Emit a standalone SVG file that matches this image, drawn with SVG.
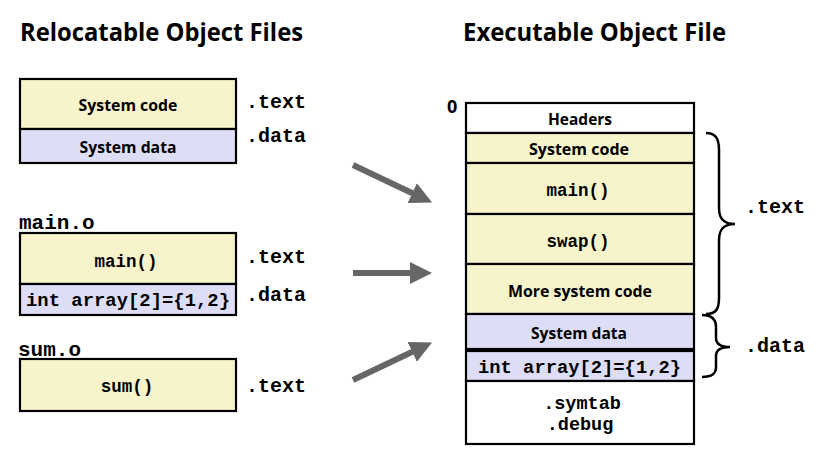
<svg xmlns="http://www.w3.org/2000/svg" width="829" height="451" viewBox="0 0 829 451">
<style>
.bg{fill:#ffffff}
.code{fill:#F7F4CC;stroke:#000;stroke-width:2.2}
.data{fill:#DDDEF6;stroke:#000;stroke-width:2.2}
.plain{fill:#ffffff;stroke:#000;stroke-width:2.2}
.sans{font-family:"Open Sans","Liberation Sans",sans-serif;font-weight:bold;fill:#000}
.mono{font-family:"Liberation Mono","DejaVu Sans Mono",monospace;font-weight:bold;fill:#000}
.title{font-size:25px}
.lbl{font-size:16.5px;text-anchor:middle}
.mc{font-size:17.5px;text-anchor:middle}
.sec{font-size:20px}
.brace{fill:none;stroke:#000;stroke-width:2.5}
.arrow{stroke:#666;stroke-width:6;fill:none}
</style>
<defs>
<marker id="ah" markerUnits="userSpaceOnUse" markerWidth="22" markerHeight="24" refX="2" refY="12" orient="auto">
<path d="M0,1 L22,12 L0,23 Z" fill="#666"/>
</marker>
</defs>
<rect class="bg" x="0" y="0" width="829" height="451"/>

<text class="sans title" x="20" y="41" textLength="283" lengthAdjust="spacingAndGlyphs">Relocatable Object Files</text>
<text class="sans title" x="463" y="41" textLength="263" lengthAdjust="spacingAndGlyphs">Executable Object File</text>

<g id="system-obj">
<rect class="code" x="20" y="79" width="216" height="50"/>
<rect class="data" x="20" y="129" width="216" height="34"/>
<text class="sans lbl" x="128" y="111" textLength="99" lengthAdjust="spacingAndGlyphs">System code</text>
<text class="sans lbl" x="128" y="153" textLength="97" lengthAdjust="spacingAndGlyphs">System data</text>
<text class="mono sec" x="246" y="108">.text</text>
<text class="mono sec" x="246" y="142">.data</text>
</g>

<g id="main-obj">
<text class="mono" x="19" y="229" font-size="21">main.o</text>
<rect class="code" x="20" y="233" width="216" height="51"/>
<rect class="data" x="20" y="284" width="216" height="31"/>
<text class="mono mc" x="126" y="267">main()</text>
<text class="mono" x="26" y="306" font-size="18.5" textLength="204" lengthAdjust="spacingAndGlyphs">int array[2]={1,2}</text>
<text class="mono sec" x="246" y="263">.text</text>
<text class="mono sec" x="246" y="301">.data</text>
</g>

<g id="sum-obj">
<text class="mono" x="18" y="356" font-size="21">sum.o</text>
<rect class="code" x="20" y="359" width="216" height="52"/>
<text class="mono mc" x="127" y="392">sum()</text>
<text class="mono sec" x="246" y="392">.text</text>
</g>

<g id="connectors">
<line class="arrow" x1="353" y1="165" x2="414" y2="194" marker-end="url(#ah)"/>
<line class="arrow" x1="353" y1="273" x2="412" y2="273" marker-end="url(#ah)"/>
<line class="arrow" x1="353" y1="380" x2="414" y2="351" marker-end="url(#ah)"/>
</g>

<g id="exec-obj">
<text class="sans" x="447" y="113" font-size="18">0</text>
<rect class="plain" x="466" y="103" width="228" height="30"/>
<rect class="code" x="466" y="133" width="228" height="30"/>
<rect class="code" x="466" y="163" width="228" height="51"/>
<rect class="code" x="466" y="214" width="228" height="50"/>
<rect class="code" x="466" y="264" width="228" height="50"/>
<rect class="data" x="466" y="314" width="228" height="35"/>
<rect class="data" x="466" y="351" width="228" height="30"/>
<rect class="plain" x="466" y="381" width="228" height="63"/>
<text class="sans lbl" x="580" y="125" textLength="64" lengthAdjust="spacingAndGlyphs">Headers</text>
<text class="sans lbl" x="579" y="155" textLength="100" lengthAdjust="spacingAndGlyphs">System code</text>
<text class="mono mc" x="578" y="196">main()</text>
<text class="mono mc" x="578" y="247">swap()</text>
<text class="sans lbl" x="580" y="297" textLength="144" lengthAdjust="spacingAndGlyphs">More system code</text>
<text class="sans lbl" x="579" y="339" textLength="96" lengthAdjust="spacingAndGlyphs">System data</text>
<text class="mono" x="478" y="373" font-size="18.5" textLength="203" lengthAdjust="spacingAndGlyphs">int array[2]={1,2}</text>
<text class="mono" x="582" y="409" font-size="18.5" text-anchor="middle">.symtab</text>
<text class="mono" x="580" y="430" font-size="18.5" text-anchor="middle">.debug</text>
</g>

<g id="text-brace">
<path class="brace" d="M706,133 C716,133 719,139 719,150 L719,208 C719,219 724,224 735,224 C724,224 719,229 719,240 L719,298 C719,309 716,314 706,314"/>
<text class="mono sec" x="745" y="213">.text</text>
</g>

<g id="data-brace">
<path class="brace" d="M702,315 C712,315 716,319 716,327 L716,338 C716,344 720,347 730,347 C720,347 716,350 716,356 L716,367 C716,374 712,377 702,377"/>
<text class="mono sec" x="745" y="352">.data</text>
</g>
</svg>
